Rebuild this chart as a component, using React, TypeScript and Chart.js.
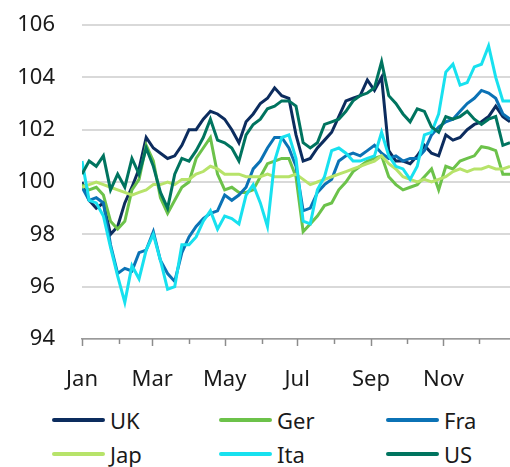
import React, { useEffect, useRef } from "react";
import { Chart, registerables } from "chart.js";

Chart.register(...registerables);

// Day of year (0 = 1 Jan) for every sample
const days = [
  0, 6, 12, 18, 24, 30, 36, 42, 48, 54, 60, 66, 72, 78, 84, 90, 96, 102, 108, 114,
  120, 126, 132, 138, 144, 150, 156, 162, 168, 174, 180, 186, 192, 198, 204, 210, 216, 222, 228, 234,
  240, 246, 252, 258, 264, 270, 276, 282, 288, 294, 300, 306, 312, 318, 324, 330, 336, 342, 348, 354, 360,
];

const ukValues = [
  100.0, 99.3, 99.0, 99.2, 98.0, 98.3, 99.2, 99.8, 100.5, 101.7, 101.3, 101.1, 100.9, 101.0, 101.4, 102.0, 102.0, 102.4, 102.7, 102.6,
  102.4, 102.0, 101.5, 102.3, 102.6, 103.0, 103.2, 103.6, 103.3, 103.2, 101.8, 100.8, 100.9, 101.3, 101.6, 101.9, 102.5, 103.1, 103.2, 103.3,
  103.9, 103.5, 104.0, 101.2, 100.8, 100.8, 100.7, 101.0, 101.4, 101.1, 101.0, 101.8, 101.6, 101.7, 102.0, 102.2, 102.3, 102.5, 102.9, 102.5, 102.3,
];

const gerValues = [
  99.9, 99.7, 99.8, 99.5, 98.5, 98.2, 98.5, 99.7, 100.1, 101.4, 100.8, 99.4, 98.8, 99.3, 99.8, 100.0, 100.9, 101.3, 101.7, 100.3,
  99.7, 99.8, 99.6, 99.6, 99.7, 100.2, 100.7, 100.8, 100.9, 100.9, 100.2, 98.1, 98.4, 98.7, 99.1, 99.2, 99.7, 100.0, 100.4, 100.6,
  100.8, 100.9, 101.0, 100.2, 99.9, 99.7, 99.8, 99.9, 100.2, 100.5, 99.7, 100.6, 100.5, 100.8, 100.9, 101.0, 101.35, 101.3, 101.2, 100.3, 100.3,
];

const fraValues = [
  99.8, 99.3, 99.4, 99.2, 97.6, 96.5, 96.7, 96.6, 97.3, 97.4, 98.1, 97.0, 96.5, 96.2, 97.3, 97.9, 98.3, 98.6, 98.8, 98.9,
  99.5, 99.3, 99.5, 99.8, 100.5, 100.8, 101.3, 101.7, 101.7, 101.3, 100.6, 98.9, 99.0, 99.6, 99.9, 100.1, 100.8, 101.0, 101.1, 101.0,
  101.2, 101.4, 101.1, 100.9, 101.0, 100.8, 100.9, 100.9, 101.2, 101.8, 102.1, 102.3, 102.4, 102.7, 103.0, 103.2, 103.5, 103.4, 103.2, 102.6, 102.4,
];

const japValues = [
  99.8, 99.9, 100.0, 99.9, 99.8, 99.7, 99.6, 99.5, 99.6, 99.7, 99.9, 99.9, 100.0, 99.9, 100.1, 100.1, 100.3, 100.4, 100.6, 100.5,
  100.3, 100.3, 100.3, 100.2, 100.2, 100.2, 100.3, 100.2, 100.2, 100.2, 100.3, 100.1, 99.9, 100.0, 100.1, 100.2, 100.3, 100.4, 100.5, 100.6,
  100.7, 100.8, 101.0, 100.7, 100.5, 100.2, 100.1, 100.0, 100.1, 100.0, 100.1, 100.2, 100.4, 100.5, 100.4, 100.5, 100.5, 100.6, 100.5, 100.5, 100.6,
];

const itaValues = [
  100.8, 99.3, 99.2, 98.7, 97.5, 96.4, 95.4, 96.8, 96.3, 97.4, 98.0, 97.0, 95.9, 96.0, 97.6, 97.6, 97.9, 98.5, 98.9, 98.2,
  98.7, 98.6, 98.4, 99.5, 99.9, 99.2, 98.3, 100.8, 101.7, 101.8, 100.9, 98.5, 98.4, 99.7, 100.2, 101.2, 101.3, 101.1, 100.8, 100.8,
  100.9, 101.0, 101.9, 101.0, 100.6, 100.5, 100.1, 100.6, 101.8, 101.9, 102.6, 104.2, 104.5, 103.7, 103.8, 104.4, 104.5, 105.2, 104.0, 103.1, 103.1,
];

const usValues = [
  100.3, 100.8, 100.6, 101.0, 99.7, 100.3, 99.8, 100.9, 100.3, 101.3, 100.6, 99.6, 99.0, 100.3, 100.9, 100.8, 101.2, 101.7, 102.4, 101.6,
  101.5, 101.3, 100.8, 101.8, 102.2, 102.4, 102.8, 102.9, 103.1, 103.1, 102.9, 101.5, 101.3, 101.5, 102.2, 102.3, 102.4, 102.7, 103.1, 103.3,
  103.4, 103.6, 104.6, 103.3, 103.0, 102.6, 102.3, 102.8, 102.7, 102.1, 101.9, 102.5, 102.4, 102.5, 102.7, 102.4, 102.2, 102.4, 102.5, 101.4, 101.5,
];

const seriesNames = ["UK", "Ger", "Fra", "Jap", "Ita", "US"];
const seriesColors = ["#0c2c5e", "#6cc24a", "#0b72b5", "#b7e36a", "#18e1ef", "#00745f"];
const seriesValues = [ukValues, gerValues, fraValues, japValues, itaValues, usValues];

const monthStarts = [0, 31, 59, 90, 120, 151, 181, 212, 243, 273, 304, 334];
const monthLabels = ["Jan", "", "Mar", "", "May", "", "Jul", "", "Sep", "", "Nov", ""];

const yTicks = [94, 96, 98, 100, 102, 104, 106];

const FONT = "'Noto Sans', 'Open Sans', sans-serif";
const TEXT = "#1a1a1a";

const monthTickPlugin = {
  id: "monthTicks",
  afterDraw(chart: any) {
    const scale = chart.scales.x;
    const ctx = chart.ctx;
    ctx.save();
    ctx.strokeStyle = "#8c8c8c";
    ctx.lineWidth = 1.5;
    monthStarts.forEach((d, i) => {
      const px = Math.round(scale.getPixelForValue(d)) + 0.5;
      const len = monthLabels[i] ? 7 : 5;
      ctx.beginPath();
      ctx.moveTo(px, scale.top);
      ctx.lineTo(px, scale.top + len);
      ctx.stroke();
    });
    ctx.restore();
  },
};

export default function App() {
  const canvasRef = useRef<HTMLCanvasElement | null>(null);

  useEffect(() => {
    if (!canvasRef.current) return;
    const datasets = seriesNames.map((name, i) => ({
      label: name,
      data: days.map((d, j) => ({ x: d, y: seriesValues[i][j] })),
      borderColor: seriesColors[i],
      backgroundColor: seriesColors[i],
      borderWidth: 3,
      pointRadius: 0,
      tension: 0,
      order: seriesNames.length - i,
    }));
    const chart = new Chart(canvasRef.current, {
      type: "line",
      data: { datasets },
      plugins: [monthTickPlugin],
      options: {
        animation: false,
        responsive: false,
        devicePixelRatio: 1,
        layout: { padding: { top: 25, right: 0, left: 0, bottom: 0 } },
        plugins: { legend: { display: false }, tooltip: { enabled: false } },
        scales: {
          x: {
            type: "linear",
            min: 0,
            max: 360,
            afterBuildTicks: (scale: any) => {
              scale.ticks = monthStarts.map((v) => ({ value: v }));
            },
            afterFit: (scale: any) => {
              scale.height = 61;
              scale.paddingRight = 0;
            },
            grid: { display: false, drawTicks: false },
            border: { display: true, color: "#9a9a9a", width: 1.5 },
            ticks: {
              autoSkip: false,
              maxRotation: 0,
              padding: 28,
              color: TEXT,
              font: { family: FONT, size: 22 },
              callback: (_v: any, i: number) => monthLabels[i],
            },
          },
          y: {
            min: 94,
            max: 106,
            afterBuildTicks: (scale: any) => {
              scale.ticks = yTicks.map((v) => ({ value: v }));
            },
            afterFit: (scale: any) => {
              scale.width = 82;
              scale.paddingTop = 0;
              scale.paddingBottom = 0;
            },
            grid: { color: "#d9d9d9", lineWidth: 2, drawTicks: false },
            border: { display: false },
            ticks: {
              padding: 27,
              color: TEXT,
              font: { family: FONT, size: 22 },
              callback: (v: any) => String(v),
            },
          },
        },
      },
    });
    return () => chart.destroy();
  }, []);

  const legendCols = [52, 219, 386];
  const legendRows = [420, 454];

  return (
    <div style={{ position: "absolute", left: 0, top: 0, width: 510, height: 467, background: "#fff", overflow: "hidden" }}>
      <canvas ref={canvasRef} width={510} height={400} style={{ position: "absolute", left: 0, top: 0, width: 510, height: 400 }} />
      {seriesNames.map((name, i) => {
        const col = i % 3;
        const row = Math.floor(i / 3);
        return (
          <div
            key={name}
            style={{
              position: "absolute",
              left: legendCols[col],
              top: legendRows[row] - 16,
              height: 32,
              display: "flex",
              alignItems: "center",
              fontFamily: FONT,
              fontSize: 22,
              color: TEXT,
              whiteSpace: "nowrap",
            }}
          >
            <span
              style={{
                display: "inline-block",
                width: 53,
                height: 4,
                borderRadius: 2,
                background: seriesColors[i],
                marginRight: 5,
              }}
            />
            <span>{name}</span>
          </div>
        );
      })}
    </div>
  );
}
